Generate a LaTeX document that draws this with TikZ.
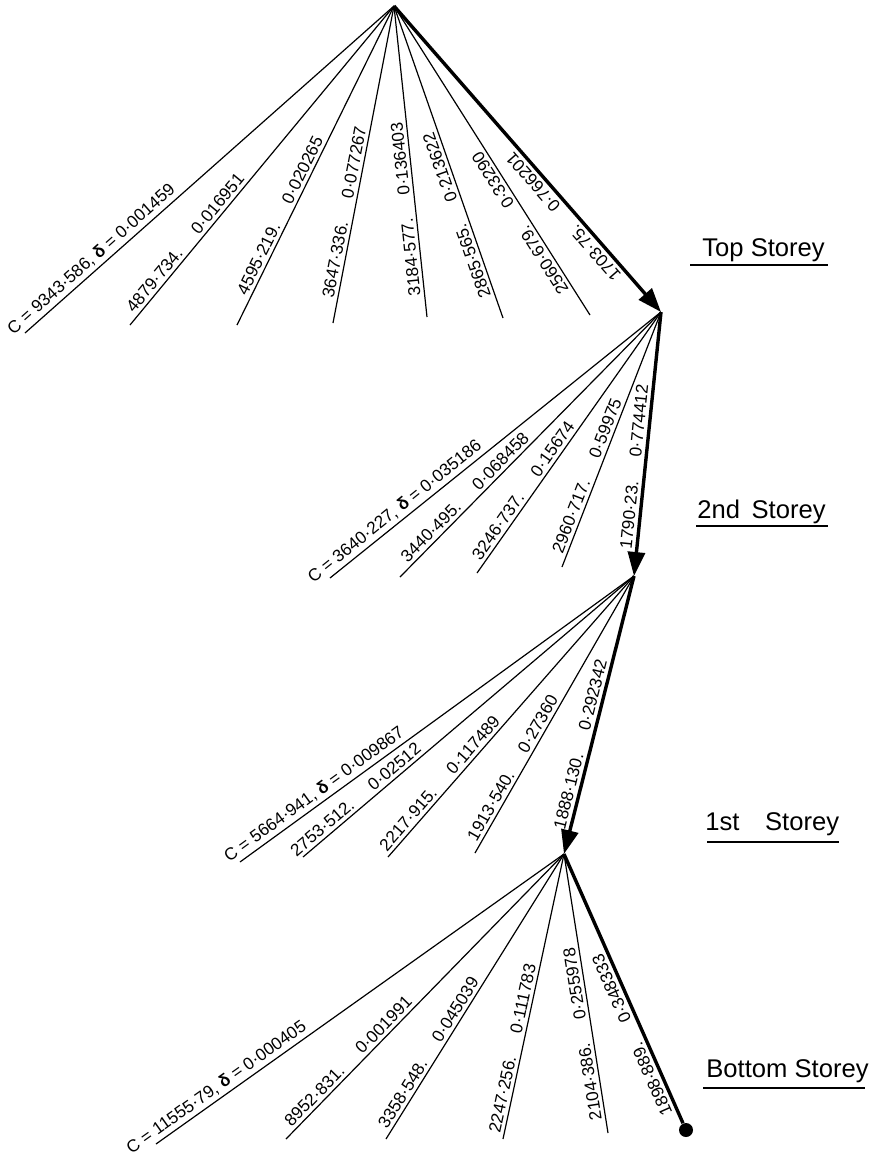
\documentclass[tikz,border=0pt]{standalone}
\usepackage{fontspec}
\setmainfont{Liberation Sans}
\usetikzlibrary{arrows.meta,calc}
\newcommand\numgap{\hspace{1.4em}}
\begin{document}
\begin{tikzpicture}[x=0.5pt,y=-0.5pt,
  member/.style={line width=0.6pt},
  mainmember/.style={line width=1.7pt},
  loadtip/.style={{Triangle[length=12pt,width=8.5pt]}-},
  coef/.style={sloped, allow upside down, above, inner sep=1.6pt,
    font=\fontsize{8.6}{10}\selectfont},
  storey/.style={anchor=base west, inner sep=0pt,
    font=\fontsize{12.8}{15}\selectfont},
  uline/.style={line width=0.7pt}]
\useasboundingbox (0,0) rectangle (878,1164);

% joints of the frame
\coordinate (A) at (394,6);
\coordinate (B) at (661,312);
\coordinate (C) at (634,576);
\coordinate (D) at (564,854);
\node[circle, fill, inner sep=0pt, minimum size=7pt] (E) at (686,1130) {};

% free ends of the members
\coordinate (t1) at (25,333);
\coordinate (t2) at (130,325);
\coordinate (t3) at (237,325);
\coordinate (t4) at (333,323);
\coordinate (t5) at (427,317);
\coordinate (t6) at (503,318);
\coordinate (t7) at (590,315);

\coordinate (s1) at (330,578);
\coordinate (s2) at (400,577);
\coordinate (s3) at (477,573);
\coordinate (s4) at (562,567);

\coordinate (r1) at (240,862);
\coordinate (r2) at (303,857);
\coordinate (r3) at (388,857);
\coordinate (r4) at (475,853);

\coordinate (b1) at (156,1144);
\coordinate (b2) at (286,1139);
\coordinate (b3) at (386,1139);
\coordinate (b4) at (503,1139);
\coordinate (b5) at (608,1133);

% top storey
\draw[member] (t1) -- node[coef,pos=0.2] {C = 9343·586, \textbf{δ} = 0·001459} (A);
\draw[member] (t2) -- node[coef,pos=0.238] {4879·734.\numgap 0·016951} (A);
\draw[member] (t3) -- node[coef,pos=0.33] {4595·219.\numgap 0·020265} (A);
\draw[member] (t4) -- node[coef,pos=0.344] {3647·336.\numgap 0·077267} (A);
\draw[member] (t5) -- node[coef,pos=0.35] {3184·577.\numgap 0·136403} (A);
\draw[member] (t6) -- node[coef,pos=0.339] {2865·565.\numgap 0·213622} (A);
\draw[member] (t7) -- node[coef,pos=0.314] {2560·679.\numgap 0·33290} (A);
\draw[mainmember,loadtip] (B) -- node[coef,pos=0.335] {1703·75.\numgap 0·766201} (A);

% 2nd storey
\draw[member] (s1) -- node[coef,pos=0.217] {C = 3640·227, \textbf{δ} = 0·035186} (B);
\draw[member] (s2) -- node[coef,pos=0.275] {3440·495.\numgap 0·068458} (B);
\draw[member] (s3) -- node[coef,pos=0.295] {3246·737.\numgap 0·15674} (B);
\draw[member] (s4) -- node[coef,pos=0.344] {2960·717.\numgap 0·59975} (B);
\draw[mainmember,loadtip] (C) -- node[coef,pos=0.41] {1790·23.\numgap 0·774412} (B);

% 1st storey
\draw[member] (r1) -- node[coef,pos=0.205] {C = 5664·941, \textbf{δ} = 0·009867} (C);
\draw[member] (r2) -- node[coef,pos=0.178] {2753·512.\numgap 0·02512} (C);
\draw[member] (r3) -- node[coef,pos=0.24] {2217·915.\numgap 0·117489} (C);
\draw[member] (r4) -- node[coef,pos=0.29] {1913·540.\numgap 0·27360} (C);
\draw[mainmember,loadtip] (D) -- node[coef,pos=0.385] {1888·130.\numgap 0·292342} (C);

% bottom storey
\draw[member] (b1) -- node[coef,pos=0.164] {C = 11555·79, \textbf{δ} = 0·000405} (D);
\draw[member] (b2) -- node[coef,pos=0.249] {8952·831.\numgap 0·001991} (D);
\draw[member] (b3) -- node[coef,pos=0.285] {3358·548.\numgap 0·045039} (D);
\draw[member] (b4) -- node[coef,pos=0.311] {2247·256.\numgap 0·111783} (D);
\draw[member] (b5) -- node[coef,pos=0.36] {2104·386.\numgap 0·255978} (D);
\draw[mainmember] (E) -- node[coef,pos=0.344] {1898·889.\numgap 0·348333} (D);

% storey captions
\node[storey] (ls1) at (702,256) {Top Storey};
\draw[uline] ($(ls1.base west)+(-12,9)$) -- ($(ls1.base east)+(3,9)$);
\node[storey] (ls2) at (697,518) {2nd\hspace{0.45em}Storey};
\draw[uline] ($(ls2.base west)+(-1,8)$) -- ($(ls2.base east)+(2,8)$);
\node[storey] (ls3) at (705,830) {1st\hspace{1em}Storey};
\draw[uline] ($(ls3.base west)+(2,12)$) -- ($(ls3.base east)+(-1,12)$);
\node[storey] (ls4) at (706,1077) {Bottom Storey};
\draw[uline] ($(ls4.base west)+(-3,11)$) -- ($(ls4.base east)+(-4,11)$);
\end{tikzpicture}
\end{document}
